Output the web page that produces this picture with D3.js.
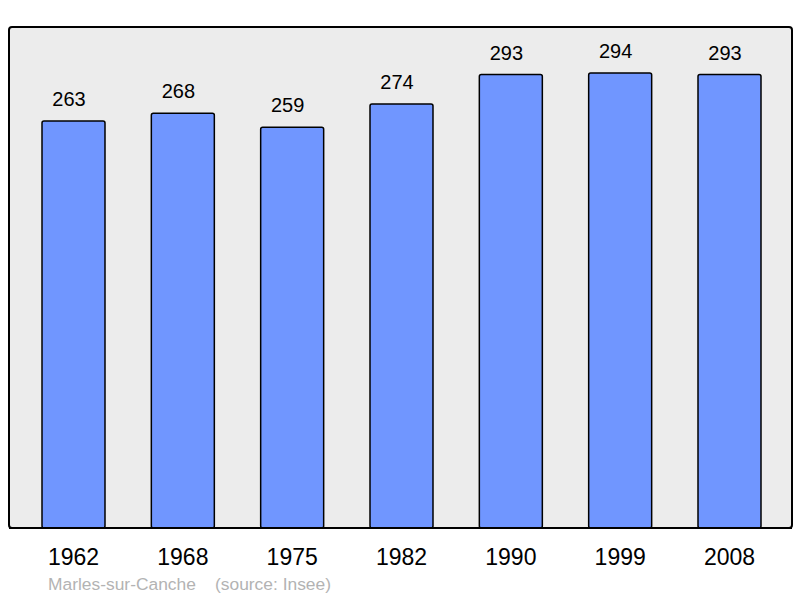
<!DOCTYPE html>
<html>
<head>
<meta charset="utf-8">
<script src="https://cdn.jsdelivr.net/npm/d3@7"></script>
<style>
  body { margin: 0; background: #fff; }
  svg { display: block; font-family: "Liberation Sans", Arial, sans-serif; }
</style>
</head>
<body>
<div id="chart"></div>
<script>
var years = ["1962", "1968", "1975", "1982", "1990", "1999", "2008"];
var population = [263, 268, 259, 274, 293, 294, 293];
var townName = "Marles-sur-Canche";
var sourceText = "(source: Insee)";

var svgWidth = 800, svgHeight = 598;

// panel box
var panel = { left: 9, top: 27, right: 792, bottom: 528 };

var svg = d3.select("#chart")
  .append("svg")
  .attr("width", svgWidth)
  .attr("height", svgHeight);

svg.append("rect")
  .attr("x", panel.left)
  .attr("y", panel.top)
  .attr("width", panel.right - panel.left)
  .attr("height", panel.bottom - panel.top)
  .attr("rx", 3)
  .attr("fill", "#ececec")
  .attr("stroke", "#000")
  .attr("stroke-width", 2);

var xScale = d3.scaleBand()
  .domain(years)
  .range([42, 761])
  .paddingInner(0.4238)
  .paddingOuter(0);

var yScale = d3.scaleLinear()
  .domain([0, 323.7])
  .range([panel.bottom, panel.top]);

var chartData = years.map(function(y, i) { return { year: y, value: population[i] }; });

svg.selectAll(".bar")
  .data(chartData)
  .enter()
  .append("rect")
  .attr("class", "bar")
  .attr("x", d => xScale(d.year))
  .attr("y", d => yScale(d.value))
  .attr("width", xScale.bandwidth())
  .attr("height", d => panel.bottom - yScale(d.value))
  .attr("rx", 2)
  .attr("fill", "#7096ff")
  .attr("stroke", "#000")
  .attr("stroke-width", 1.5);

// redraw bottom border on top of bars
svg.append("line")
  .attr("x1", panel.left)
  .attr("x2", panel.right)
  .attr("y1", panel.bottom)
  .attr("y2", panel.bottom)
  .attr("stroke", "#000")
  .attr("stroke-width", 2);

// value labels sit a little left of the bar centre in the original
svg.selectAll(".val")
  .data(chartData)
  .enter()
  .append("text")
  .attr("class", "val")
  .attr("x", d => xScale(d.year) + xScale.bandwidth() / 2 - 4.5)
  .attr("y", d => yScale(d.value) - 15)
  .attr("text-anchor", "middle")
  .attr("font-size", 20)
  .attr("fill", "#000")
  .text(d => d.value);

var xAxis = d3.axisBottom(xScale).tickSize(0).tickPadding(0);
var axisG = svg.append("g")
  .attr("transform", "translate(0, 565)")
  .call(xAxis);
axisG.select(".domain").remove();
axisG.selectAll("text")
  .attr("font-size", 23)
  .attr("font-family", "Liberation Sans, Arial, sans-serif")
  .attr("fill", "#000")
  .attr("y", 0)
  .attr("dy", 0);

svg.append("text")
  .attr("x", 48)
  .attr("y", 590)
  .attr("font-size", 17.4)
  .attr("fill", "#b3b3b3")
  .text(townName);

svg.append("text")
  .attr("x", 215)
  .attr("y", 590)
  .attr("font-size", 17.4)
  .attr("fill", "#b3b3b3")
  .text(sourceText);
</script>
</body>
</html>
